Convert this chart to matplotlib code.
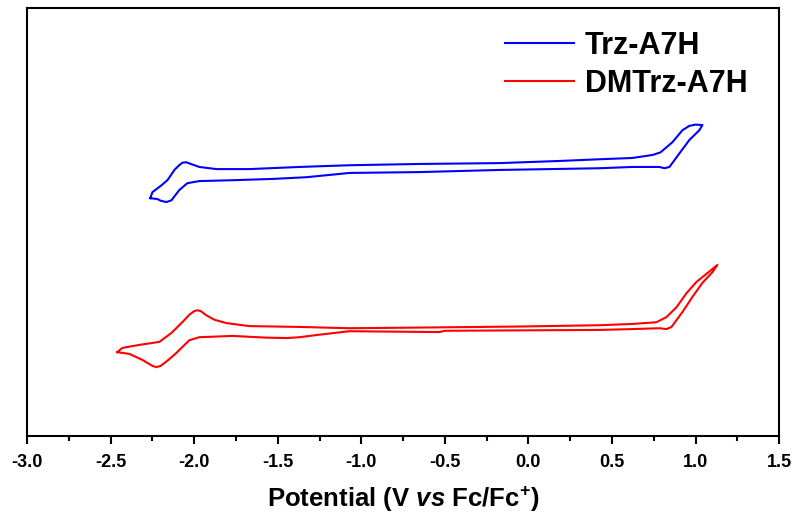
import matplotlib
matplotlib.use('Agg')
import matplotlib.pyplot as plt
from matplotlib.ticker import MultipleLocator

plt.rcParams['font.family'] = 'Liberation Sans'
plt.rcParams['font.weight'] = 'bold'
plt.rcParams['axes.unicode_minus'] = False
plt.rcParams['mathtext.fontset'] = 'custom'
plt.rcParams['mathtext.rm'] = 'Liberation Sans:bold'
plt.rcParams['mathtext.bf'] = 'Liberation Sans:bold'
plt.rcParams['mathtext.it'] = 'Liberation Sans:italic:bold'
plt.rcParams['mathtext.bfit'] = 'Liberation Sans:italic:bold'

# Trz-A7H cyclic voltammogram (closed loop), potential in V vs Fc/Fc+, current in a.u.
trz_potential = [-2.262, -2.250, -2.196, -2.160, -2.118, -2.090, -2.070, -2.047, -2.020, -1.969,
                 -1.867, -1.670, -1.370, -1.071, -0.652, -0.174, 0.186, 0.425, 0.622, 0.742,
                 0.790, 0.814, 0.862, 0.922, 0.963, 1.000, 1.041,
                 1.023, 0.963, 0.904, 0.844, 0.814, 0.784, 0.622, 0.425, 0.126, -0.174,
                 -0.652, -1.071, -1.329, -1.532, -1.771, -1.969, -2.041, -2.089, -2.136,
                 -2.166, -2.200, -2.220, -2.262]
trz_current = [5.56, 5.70, 5.86, 5.98, 6.22, 6.33, 6.39, 6.40, 6.36, 6.29,
               6.24, 6.24, 6.29, 6.33, 6.36, 6.38, 6.43, 6.47, 6.50, 6.57,
               6.63, 6.71, 6.87, 7.15, 7.25, 7.28, 7.27,
               7.15, 6.92, 6.61, 6.29, 6.26, 6.29, 6.29, 6.26, 6.24, 6.22,
               6.17, 6.15, 6.05, 6.01, 5.98, 5.96, 5.91, 5.75, 5.51,
               5.47, 5.50, 5.54, 5.56]

# DMTrz-A7H cyclic voltammogram (closed loop)
dmtrz_potential = [-2.460, -2.430, -2.328, -2.208, -2.136, -2.071, -2.030, -2.000, -1.981, -1.960,
                   -1.930, -1.880, -1.807, -1.670, -1.370, -1.071, -0.533, -0.054, 0.425, 0.622,
                   0.766, 0.826, 0.886, 0.946, 1.005, 1.065, 1.131,
                   1.101, 1.041, 0.981, 0.922, 0.856, 0.826, 0.784, 0.622, 0.425, -0.054,
                   -0.500, -0.533, -1.071, -1.269, -1.370, -1.448, -1.568, -1.771, -1.969,
                   -2.029, -2.107, -2.160, -2.200, -2.226, -2.250, -2.310, -2.388, -2.460]
dmtrz_current = [1.96, 2.06, 2.13, 2.20, 2.41, 2.66, 2.83, 2.92, 2.94, 2.92,
                 2.83, 2.72, 2.64, 2.57, 2.55, 2.52, 2.54, 2.56, 2.59, 2.62,
                 2.66, 2.78, 3.01, 3.34, 3.60, 3.79, 4.00,
                 3.83, 3.58, 3.25, 2.90, 2.55, 2.50, 2.52, 2.50, 2.48, 2.47,
                 2.46, 2.43, 2.45, 2.36, 2.31, 2.29, 2.30, 2.34, 2.31,
                 2.24, 1.94, 1.76, 1.64, 1.61, 1.64, 1.78, 1.92, 1.96]

fig = plt.figure(figsize=(7.95, 5.16), dpi=100)
ax = fig.add_axes([0.034, 0.155, 0.946, 0.829])

ax.plot(trz_potential, trz_current, color='#0000ff', lw=1.5, label='Trz-A7H')
ax.plot(dmtrz_potential, dmtrz_current, color='#ff0000', lw=1.5, label='DMTrz-A7H')

ax.set_xlim(-3.0, 1.5)
ax.set_ylim(0, 10)
ax.xaxis.set_major_locator(MultipleLocator(0.5))
ax.xaxis.set_minor_locator(MultipleLocator(0.25))
ax.set_yticks([])
ax.tick_params(axis='x', which='major', direction='out', length=6, width=1.5,
               labelsize=13, pad=7)
ax.tick_params(axis='x', which='minor', direction='out', length=3.5, width=1.5)
for s in ax.spines.values():
    s.set_linewidth(1.5)

ax.set_xlabel(r'Potential (V $\mathbfit{vs}$ Fc/Fc$^{\mathbf{+}}$)', fontsize=18.5,
              fontweight='bold', labelpad=10)

ax.legend(loc='upper right', bbox_to_anchor=(0.986, 0.998), frameon=False,
          fontsize=22, handlelength=2.29, labelspacing=0.28, handletextpad=0.33,
          borderaxespad=0.3)

fig.savefig('out.png', dpi=100)
